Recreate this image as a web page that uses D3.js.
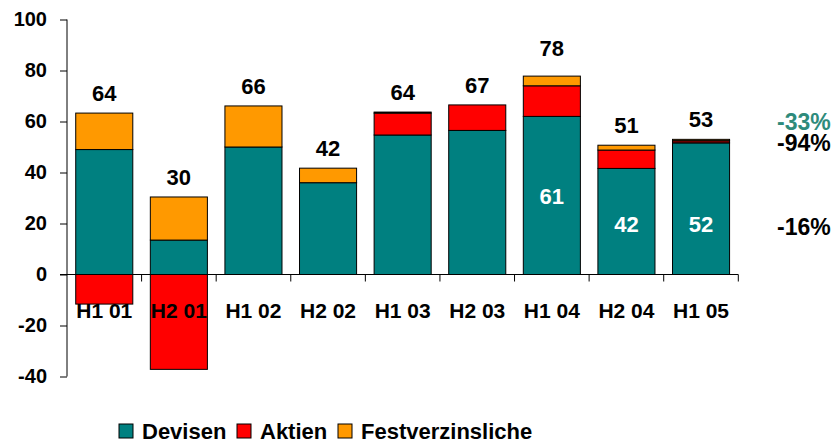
<!DOCTYPE html>
<html>
<head>
<meta charset="utf-8">
<script src="https://cdn.jsdelivr.net/npm/d3@7"></script>
<style>
  body { margin: 0; background: #fff; }
  svg { display: block; font-family: Arial, "Liberation Sans", sans-serif; font-weight: bold; }
</style>
</head>
<body>
<svg id="chart" width="836" height="443"></svg>
<script>
// chart data
var categories = ['H1 01', 'H2 01', 'H1 02', 'H2 02', 'H1 03', 'H2 03', 'H1 04', 'H2 04', 'H1 05'];
var devisen = [49, 13.5, 50, 36, 54.7, 56.5, 62, 41.6, 51.6];
var aktien = [-11.6, -37.2, 0, 0, 8.6, 10, 12, 7.2, 0.9];
var festverzinsliche = [14.3, 16.9, 16.1, 5.7, 0.4, 0, 3.8, 1.9, 0.5];
var totals = ['64', '30', '66', '42', '64', '67', '78', '51', '53'];
var yTicks = [-40, -20, 0, 20, 40, 60, 80, 100];
var innerLabels = [
    { cat: 'H1 04', text: '61' },
    { cat: 'H2 04', text: '42' },
    { cat: 'H1 05', text: '52' }
];
var changes = [
    { text: '-33%', color: '#2e8b7b' },
    { text: '-94%', color: '#000' },
    { text: '-16%', color: '#000' }
];

var seriesNames = ['Devisen', 'Aktien', 'Festverzinsliche'];
var colors = { Devisen: '#008080', Aktien: '#ff0000', Festverzinsliche: '#ff9900' };

var svg = d3.select('#chart');
var plotL = 67, plotR = 738.3, plotT = 19.5, plotB = 376.5;

var x = d3.scaleBand().domain(categories).range([plotL, plotR]).paddingInner(0.235).paddingOuter(0.117);
var y = d3.scaleLinear().domain([-40, 100]).range([plotB, plotT]);

// build the rows, stacking positives up and negatives down
var rows = categories.map(function(c, i) {
    return { cat: c, Devisen: devisen[i], Aktien: aktien[i], Festverzinsliche: festverzinsliche[i] };
});

var segs = [];
rows.forEach(function(r) {
    var pos = 0, neg = 0;
    seriesNames.forEach(function(s) {
        var v = r[s];
        if (!v) return;
        if (v > 0) { segs.push({ cat: r.cat, s: s, y0: pos, y1: pos + v }); pos += v; }
        else { segs.push({ cat: r.cat, s: s, y0: neg + v, y1: neg }); neg += v; }
    });
    r.top = pos;
});

// bars
svg.append('g').selectAll('rect').data(segs).enter().append('rect')
    .attr('x', function(d) { return x(d.cat); })
    .attr('width', x.bandwidth())
    .attr('y', function(d) { return y(d.y1); })
    .attr('height', function(d) { return y(d.y0) - y(d.y1); })
    .attr('fill', function(d) { return (d.s == 'Aktien' && d.y1 - d.y0 < 2) ? '#8b0000' : colors[d.s]; })
    .attr('stroke', '#000')
    .attr('stroke-width', 1);

// y axis (plain hyphen for negatives, like the original)
var yAxis = d3.axisLeft(y).tickValues(yTicks).tickSize(7).tickPadding(13)
    .tickFormat(function(d) { return String(d); });
var gy = svg.append('g').attr('transform', 'translate(' + plotL + ',0)').call(yAxis);
gy.selectAll('text').attr('font-size', 20).attr('font-weight', 'bold').attr('fill', '#000')
    .attr('font-family', 'Arial, "Liberation Sans", sans-serif');
gy.selectAll('line, path').attr('stroke', '#000');
gy.select('.domain').attr('d', 'M0,' + y(-40) + 'V' + y(100));

// x axis line with ticks between categories
var gx = svg.append('g');
gx.append('line').attr('x1', plotL - 7).attr('x2', plotR).attr('y1', y(0)).attr('y2', y(0)).attr('stroke', '#000');
d3.range(1, categories.length + 1).forEach(function(i) {
    var xx = plotL + i * (plotR - plotL) / categories.length;
    gx.append('line').attr('x1', xx).attr('x2', xx).attr('y1', y(0)).attr('y2', y(0) + 7).attr('stroke', '#000');
});

// category labels
svg.append('g').selectAll('text').data(categories).enter().append('text')
    .attr('x', function(d) { return x(d) + x.bandwidth() / 2; })
    .attr('y', 318)
    .attr('text-anchor', 'middle')
    .attr('font-size', 21)
    .text(function(d) { return d; });

// totals on top
svg.append('g').selectAll('text').data(rows).enter().append('text')
    .attr('x', function(d) { return x(d.cat) + x.bandwidth() / 2; })
    .attr('y', function(d, i) { return y(d.top) - (totals[i] == '78' ? 20 : 12); })
    .attr('text-anchor', 'middle')
    .attr('font-size', 22)
    .text(function(d, i) { return totals[i]; });

// white labels inside the Devisen part
svg.append('g').selectAll('text').data(innerLabels).enter().append('text')
    .attr('x', function(d) { return x(d.cat) + x.bandwidth() / 2; })
    .attr('y', function(d, i) { return i == 0 ? 204 : 232; })
    .attr('text-anchor', 'middle')
    .attr('font-size', 22)
    .attr('fill', '#fff')
    .text(function(d) { return d.text; });

// change percentages on the right
var changeY = [130, 151, 235];
svg.append('g').selectAll('text').data(changes).enter().append('text')
    .attr('x', 777)
    .attr('y', function(d, i) { return changeY[i]; })
    .attr('font-size', 23)
    .attr('fill', function(d) { return d.color; })
    .text(function(d) { return d.text; });

// legend
var legX = [119, 237, 338];
var leg = svg.append('g').selectAll('g').data(seriesNames).enter().append('g')
    .attr('transform', function(d, i) { return 'translate(' + legX[i] + ',424)'; });
leg.append('rect').attr('width', 14).attr('height', 14)
    .attr('fill', function(d) { return colors[d]; }).attr('stroke', '#000');
leg.append('text').attr('x', 23).attr('y', 15).attr('font-size', 22).text(function(d) { return d; });
</script>
</body>
</html>
